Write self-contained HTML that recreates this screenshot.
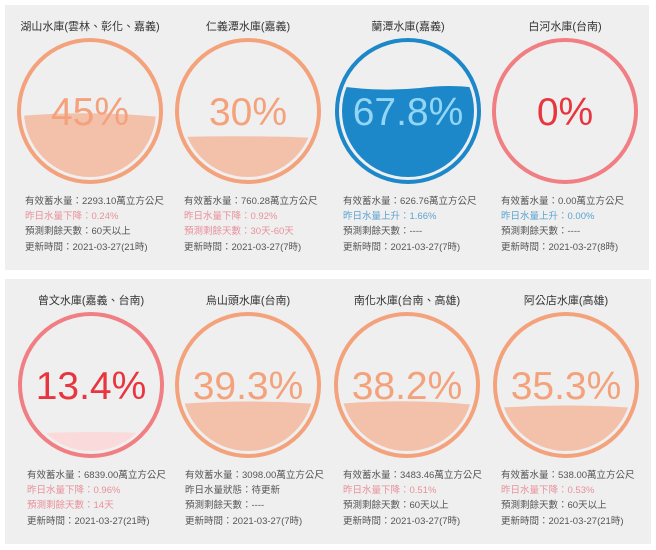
<!DOCTYPE html>
<html><head><meta charset="utf-8"><style>
html,body{margin:0;padding:0;background:#fff;width:656px;height:550px;overflow:hidden}
svg{display:block}
text{font-family:"Liberation Sans","Noto Sans CJK TC",sans-serif}
.t{font-size:11px;fill:#333;text-anchor:middle}
.i{font-size:9.5px;fill:#555}
.r{fill:#e8909a}.b{fill:#5aa3cf}
.p{font-size:39px;text-anchor:middle}
</style></head><body>
<svg width="656" height="550" viewBox="0 0 656 550">
<defs>
<clipPath id="c1"><circle cx="90" cy="111" r="66"/></clipPath>
<clipPath id="c2"><circle cx="248" cy="111" r="66"/></clipPath>
<clipPath id="c3"><circle cx="408" cy="111" r="66"/></clipPath>
<clipPath id="c5"><circle cx="91" cy="385" r="66"/></clipPath>
<clipPath id="c6"><circle cx="248" cy="385" r="66"/></clipPath>
<clipPath id="c7"><circle cx="407" cy="385" r="66"/></clipPath>
<clipPath id="c8"><circle cx="566" cy="385" r="66"/></clipPath>
</defs>
<rect x="5" y="5" width="644" height="265" fill="#efefef"/>
<rect x="5" y="279" width="646" height="265" fill="#efefef"/>

<!-- top row -->
<text class="t" x="90" y="30">湖山水庫(雲林、彰化、嘉義)</text>
<path clip-path="url(#c1)" d="M20 116 Q90 110 160 117 L160 190 L20 190Z" fill="#f3c1aa"/>
<circle cx="90" cy="111" r="71" fill="none" stroke="#f4a27c" stroke-width="4"/>
<text class="p" x="90" y="125" fill="#f4a27c">45%</text>
<text class="i" x="25" y="204">有效蓄水量：2293.10萬立方公尺</text>
<text class="i r" x="25" y="219">昨日水量下降：0.24%</text>
<text class="i" x="25" y="234">預測剩餘天數：60天以上</text>
<text class="i" x="25" y="250">更新時間：2021-03-27(21時)</text>

<text class="t" x="248" y="30">仁義潭水庫(嘉義)</text>
<path clip-path="url(#c2)" d="M178 137 Q248 135 318 138 L318 190 L178 190Z" fill="#f3c1aa"/>
<circle cx="248" cy="111" r="71" fill="none" stroke="#f4a27c" stroke-width="4"/>
<text class="p" x="248" y="125" fill="#f4a27c">30%</text>
<text class="i" x="184" y="204">有效蓄水量：760.28萬立方公尺</text>
<text class="i r" x="184" y="219">昨日水量下降：0.92%</text>
<text class="i r" x="184" y="234">預測剩餘天數：30天-60天</text>
<text class="i" x="184" y="250">更新時間：2021-03-27(7時)</text>

<text class="t" x="408" y="30">蘭潭水庫(嘉義)</text>
<path clip-path="url(#c3)" d="M338 86 Q380 92 420 88 Q450 84 478 88 L478 190 L338 190Z" fill="#1c87c9"/>
<circle cx="408" cy="111" r="71" fill="none" stroke="#1c87c9" stroke-width="4"/>
<text class="p" x="408" y="125" fill="#92d6f6">67.8%</text>
<text class="i" x="343" y="204">有效蓄水量：626.76萬立方公尺</text>
<text class="i b" x="343" y="219">昨日水量上升：1.66%</text>
<text class="i" x="343" y="234">預測剩餘天數：----</text>
<text class="i" x="343" y="250">更新時間：2021-03-27(7時)</text>

<text class="t" x="565" y="30">白河水庫(台南)</text>
<circle cx="565" cy="111" r="71" fill="none" stroke="#f07e82" stroke-width="4"/>
<text class="p" x="565" y="125" fill="#e8363f">0%</text>
<text class="i" x="501" y="204">有效蓄水量：0.00萬立方公尺</text>
<text class="i b" x="501" y="219">昨日水量上升：0.00%</text>
<text class="i" x="501" y="234">預測剩餘天數：----</text>
<text class="i" x="501" y="250">更新時間：2021-03-27(8時)</text>

<!-- bottom row -->
<text class="t" x="91" y="304">曾文水庫(嘉義、台南)</text>
<path clip-path="url(#c5)" d="M21 434 Q91 430 161 434 L161 460 L21 460Z" fill="#fadada"/>
<circle cx="91" cy="385" r="71" fill="none" stroke="#f07e82" stroke-width="4"/>
<text class="p" x="91" y="399" fill="#e8363f">13.4%</text>
<text class="i" x="27" y="478">有效蓄水量：6839.00萬立方公尺</text>
<text class="i r" x="27" y="493">昨日水量下降：0.96%</text>
<text class="i r" x="27" y="508">預測剩餘天數：14天</text>
<text class="i" x="27" y="524">更新時間：2021-03-27(21時)</text>

<text class="t" x="248" y="304">烏山頭水庫(台南)</text>
<path clip-path="url(#c6)" d="M178 404 Q248 399 318 404 L318 460 L178 460Z" fill="#f3c1aa"/>
<circle cx="248" cy="385" r="71" fill="none" stroke="#f4a27c" stroke-width="4"/>
<text class="p" x="248" y="399" fill="#f4a27c">39.3%</text>
<text class="i" x="185" y="478">有效蓄水量：3098.00萬立方公尺</text>
<text class="i" x="185" y="493">昨日水量狀態：待更新</text>
<text class="i" x="185" y="508">預測剩餘天數：----</text>
<text class="i" x="185" y="524">更新時間：2021-03-27(7時)</text>

<text class="t" x="407" y="304">南化水庫(台南、高雄)</text>
<path clip-path="url(#c7)" d="M337 404 Q407 398 477 405 L477 460 L337 460Z" fill="#f3c1aa"/>
<circle cx="407" cy="385" r="71" fill="none" stroke="#f4a27c" stroke-width="4"/>
<text class="p" x="407" y="399" fill="#f4a27c">38.2%</text>
<text class="i" x="343" y="478">有效蓄水量：3483.46萬立方公尺</text>
<text class="i r" x="343" y="493">昨日水量下降：0.51%</text>
<text class="i" x="343" y="508">預測剩餘天數：60天以上</text>
<text class="i" x="343" y="524">更新時間：2021-03-27(7時)</text>

<text class="t" x="566" y="304">阿公店水庫(高雄)</text>
<path clip-path="url(#c8)" d="M496 408 Q566 403 636 408 L636 460 L496 460Z" fill="#f3c1aa"/>
<circle cx="566" cy="385" r="71" fill="none" stroke="#f4a27c" stroke-width="4"/>
<text class="p" x="566" y="399" fill="#f4a27c">35.3%</text>
<text class="i" x="501" y="478">有效蓄水量：538.00萬立方公尺</text>
<text class="i r" x="501" y="493">昨日水量下降：0.53%</text>
<text class="i" x="501" y="508">預測剩餘天數：60天以上</text>
<text class="i" x="501" y="524">更新時間：2021-03-27(21時)</text>
</svg>
</body></html>
